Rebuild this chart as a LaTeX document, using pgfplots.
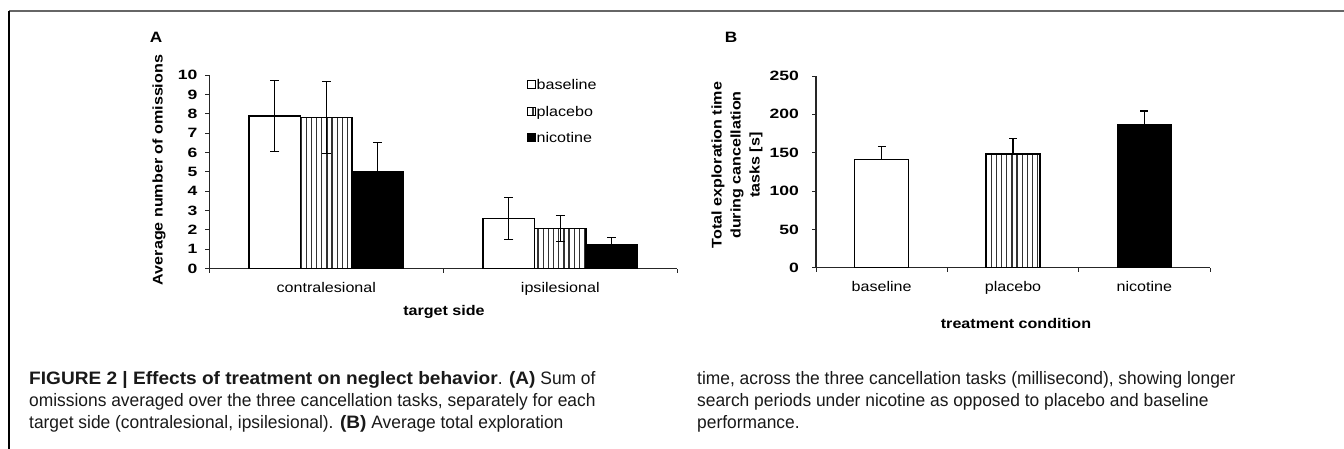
\documentclass[border=0pt]{standalone}
\usepackage{fontspec}
\setmainfont{Liberation Sans}
\newfontfamily\chartf{Liberation Sans}[FakeStretch=1.15]
\newfontfamily\tickf{Liberation Sans}[FakeStretch=1.3]
\newfontfamily\capf{Liberation Sans}[FakeStretch=0.966]
\newfontfamily\capb{Liberation Sans Bold}[FakeStretch=1.06]
\usepackage{pgfplots}
\usepackage{pgfplotstable}
\pgfplotsset{compat=1.18}
\usetikzlibrary{patterns}
\pgfdeclarepatternformonly{vstripes}{\pgfpoint{0bp}{-1bp}}{\pgfpoint{5.15bp}{6bp}}{\pgfpoint{5.15bp}{5bp}}{%
  \pgfsetlinewidth{1.3bp}\pgfpathmoveto{\pgfpoint{2.5bp}{-1bp}}\pgfpathlineto{\pgfpoint{2.5bp}{6bp}}\pgfusepath{stroke}}

\pgfplotstableread{
x base baseE plac placE nico nicoE
0 7.88 1.83 7.81 1.85 5.01 1.50
1 2.60 1.08 2.08 0.68 1.22 0.40
}\omissions

\pgfplotstableread{
x y e
0 141.4 16.4
1 148.3 20.4
2 187.0 17.3
}\exploration

\pgfplotsset{
  chartstyle/.style={
    scale only axis, axis lines=left,
    axis line style={line width=1.2bp, black!85, -},
    tick align=outside, major tick length=4bp,
    tick style={line width=1bp, black!85},
    ymin=0, ybar=0pt, clip=false, enlarge x limits=false,
    /pgf/number format/assume math mode=true,
    yticklabel style={font=\tickf\bfseries\fontsize{13.5bp}{15bp}\selectfont, inner sep=0pt},
    xticklabel style={font=\chartf\fontsize{14bp}{16bp}\selectfont, inner sep=0pt, anchor=north},
    extra x tick style={major tick length=0pt, tick label style={yshift=-13bp}},
    xticklabels={},
  },
  barA/.style={draw=black, line width=1.4bp,
    error bars/y dir=both, error bars/y explicit,
    error bars/error bar style={line width=1.2bp, black},
    error bars/error mark options={rotate=90, mark size=4.5bp, line width=1.2bp, black}},
  barB/.style={draw=black, line width=1.4bp, bar shift=0pt,
    error bars/y dir=plus, error bars/y explicit,
    error bars/error bar style={line width=1.2bp, black},
    error bars/error mark options={rotate=90, mark size=3.9bp, line width=1.2bp, black}},
  sqleg/.style={legend image code/.code={\draw[##1, line width=0.8bp] (0bp,-4bp) rectangle (8bp,4bp);}},
}

\begin{document}
\begin{tikzpicture}
\path[use as bounding box] (0,0) rectangle (1344bp,-449bp);
% frame
\draw[line width=1.5bp, black!60] (9bp,-11bp) -- (1344bp,-11bp);
\draw[line width=1.2bp, black] (9bp,-11bp) -- (9bp,-449bp);

% ---------------- Panel A ----------------
\begin{axis}[chartstyle,
  at={(209.3bp,-268.7bp)}, anchor=south west,
  width=468bp, height=193.7bp,
  xmin=-0.5, xmax=1.5, ymax=10,
  ytick={0,1,...,10},
  yticklabel style={xshift=-7.6bp},
  xtick={-0.5,0.5,1.5},
  extra x ticks={0,1},
  extra x tick labels={contralesional,ipsilesional},
  bar width=51.5bp,
  legend style={at={(axis description cs:0.678,0.978)}, anchor=north west,
    draw=none, fill=none, inner sep=0pt, row sep=16.7bp, column sep=1bp,
    font=\chartf\fontsize{14bp}{16bp}\selectfont,
    nodes={inner sep=0pt, text height=10bp, text depth=0bp},
    cells={anchor=west}},
]
\addplot[fill=white, barA, sqleg] table[x=x, y=base, y error=baseE] {\omissions};
\addplot[pattern=vstripes, pattern color=black!80, barA, sqleg] table[x=x, y=plac, y error=placE] {\omissions};
\addplot[fill=black, barA, sqleg] table[x=x, y=nico, y error=nicoE] {\omissions};
\legend{baseline,placebo,nicotine}
\end{axis}

% ---------------- Panel B ----------------
\begin{axis}[chartstyle,
  at={(816bp,-267.7bp)}, anchor=south west,
  width=394bp, height=191.7bp,
  xmin=-0.5, xmax=2.5, ymax=250,
  ytick={0,50,...,250},
  yticklabel style={xshift=-13bp},
  xtick={-0.5,0.5,1.5,2.5},
  extra x ticks={0,1,2},
  extra x tick labels={baseline,placebo,nicotine},
  bar width=54bp,
]
\addplot[fill=white, barB] table[x=x, y=y, y error=e, restrict expr to domain={\thisrow{x}}{0:0}] {\exploration};
\addplot[pattern=vstripes, pattern color=black!80, barB] table[x=x, y=y, y error=e, restrict expr to domain={\thisrow{x}}{1:1}] {\exploration};
\addplot[fill=black, barB] table[x=x, y=y, y error=e, restrict expr to domain={\thisrow{x}}{2:2}] {\exploration};
\end{axis}

% labels
\node[font=\chartf\bfseries\fontsize{15bp}{17bp}\selectfont] at (156bp,-37.5bp) {A};
\node[font=\chartf\bfseries\fontsize{15bp}{17bp}\selectfont] at (731bp,-37.5bp) {B};
\node[rotate=90, font=\chartf\bfseries\fontsize{14bp}{16bp}\selectfont] at (159bp,-170bp) {Average number of omissions};
\node[rotate=90, align=center, font=\chartf\bfseries\fontsize{14bp}{19bp}\selectfont] at (737bp,-165bp) {Total exploration time\\during cancellation\\tasks [s]};
\node[font=\chartf\bfseries\fontsize{14bp}{16bp}\selectfont] at (444bp,-312bp) {target side};
\node[font=\chartf\bfseries\fontsize{14bp}{16bp}\selectfont] at (1016bp,-323bp) {treatment condition};

% caption
\begin{scope}[every node/.style={anchor=base west, inner sep=0pt, text=black!90, font=\capf\fontsize{18bp}{22bp}\selectfont}]
\node at (29bp,-384bp) {{\capb FIGURE 2 | Effects of treatment on neglect behavior}. {\capb (A)} Sum of};
\node at (29bp,-406bp) {omissions averaged over the three cancellation tasks, separately for each};
\node at (29bp,-428bp) {target side (contralesional, ipsilesional). {\capb (B)} Average total exploration};
\node at (697bp,-384bp) {time, across the three cancellation tasks (millisecond), showing longer};
\node at (697bp,-406bp) {search periods under nicotine as opposed to placebo and baseline};
\node at (697bp,-428bp) {performance.};
\end{scope}
\end{tikzpicture}
\end{document}
